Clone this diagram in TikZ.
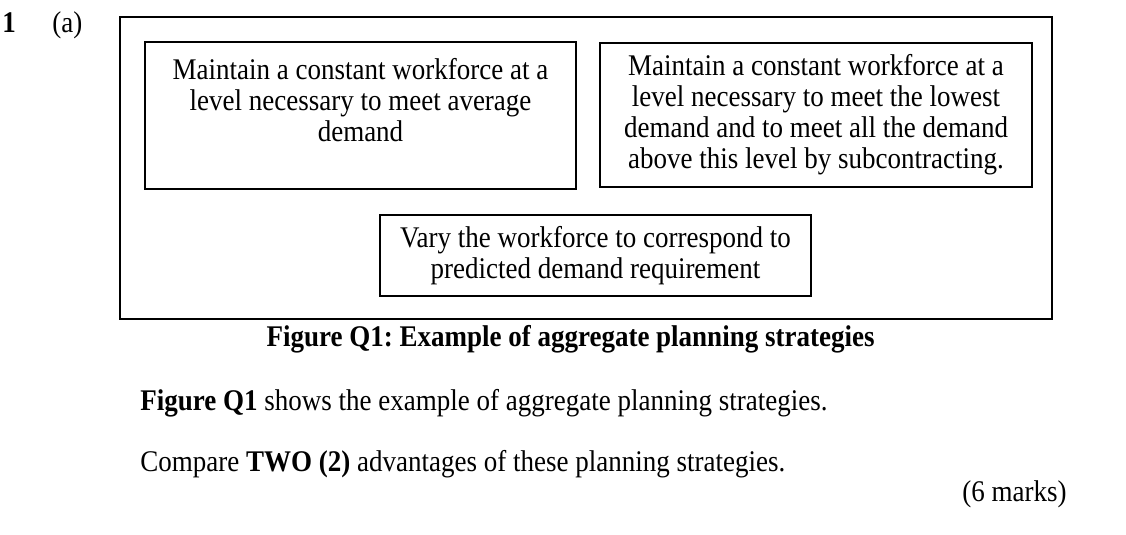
\documentclass[tikz,border=0pt]{standalone}
\usepackage{fontspec}
\setmainfont{Liberation Serif}[FakeStretch=0.9]
\usepackage{tikz}
\usetikzlibrary{shapes,positioning}
\frenchspacing
\tikzset{
  strategy/.style={draw, line width=0.6pt, align=center, inner sep=0pt,
    font=\fontsize{15}{15.5}\selectfont},
  plain/.style={inner sep=0pt, font=\fontsize{15}{15.5}\selectfont}
}

\begin{document}
\begin{tikzpicture}[x=0.5pt, y=-0.5pt]
        \useasboundingbox (0,0) rectangle (1126,535);

        % Question number
        \node[plain, anchor=base west, font=\fontsize{15}{15.5}\selectfont\bfseries] (qnum) at (2,33) {1};
        \node[plain, anchor=base west] (qpart) at (52,33) {(a)};

        % Outer frame
        \node[draw, line width=1pt, minimum width=466pt, minimum height=151pt, inner sep=0pt] (frame) at (586,168) {};

        % Strategies
        \node[strategy, minimum width=215.5pt, minimum height=73.5pt] (level) at (360.5,115.5)
            {Maintain a constant workforce at a\\ level necessary to meet average\\ demand\\ \mbox{}};
        \node[strategy, minimum width=216pt, minimum height=72pt] (subcon) at (816,115)
            {Maintain a constant workforce at a\\ level necessary to meet the lowest\\ demand and to meet all the demand\\ above this level by subcontracting.};
        \node[strategy, minimum width=215.5pt, minimum height=40.5pt] (chase) at (595.5,255.5)
            {Vary the workforce to correspond to\\ predicted demand requirement};

        % Caption
        \node[plain, anchor=base, font=\fontsize{15}{15.5}\selectfont\bfseries] (caption) at (570.5,346)
            {Figure Q1: Example of aggregate planning strategies};

        % Question text
        \node[plain, anchor=base west] (shows) at (140,410)
            {\textbf{Figure Q1} shows the example of aggregate planning strategies.};
        \node[plain, anchor=base west] (compare) at (140,471)
            {Compare \textbf{TWO (2)} advantages of these planning strategies.};
        \node[plain, anchor=base east] (marks) at (1067,501) {(6 marks)};
\end{tikzpicture}
\end{document}
